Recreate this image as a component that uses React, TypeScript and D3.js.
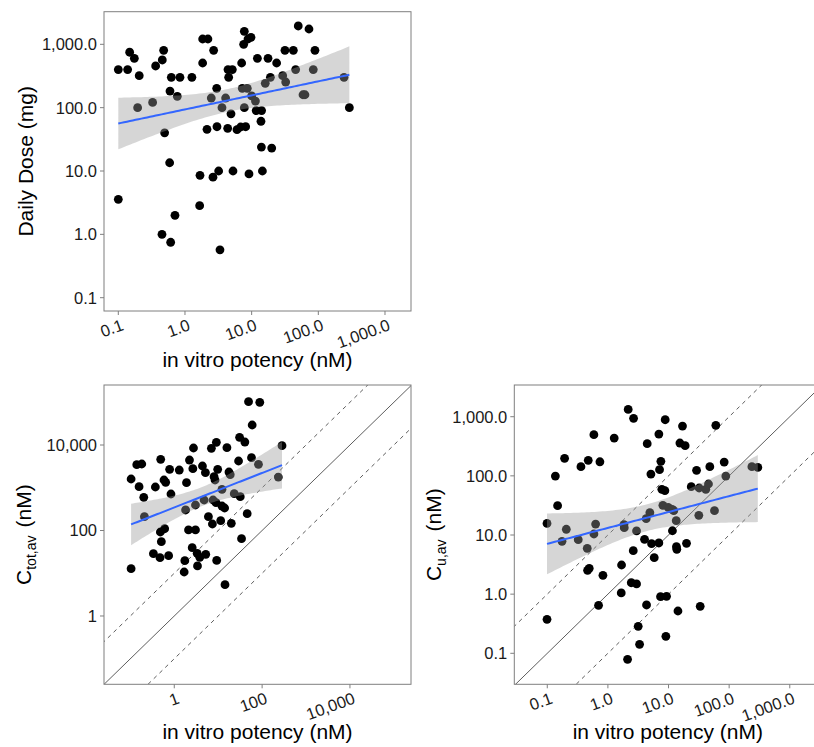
import React from "react";
import * as d3 from "d3";

// ---------- data ----------
const doseX = [0.1,0.138,0.148,0.174,0.206,0.195,0.327,0.363,0.457,0.479,0.495,0.596,0.624,0.767,0.841,1.27,0.589,0.452,0.61,0.708,0.1,1.84,2.21,1.84,2.69,2.99,2.48,3.59,4.07,4.42,5.13,4.52,4.9,2.14,3.02,4.37,6.03,6.84,8.13,1.68,2.63,3.2,5.25,9.12,14.5,14.0,20,1.66,3.35,7.08,7.76,7.59,8.81,9.77,7.24,8.6,10,7.76,11.4,11.7,14.1,13.8,12.2,17.6,19.1,16,23.7,29.2,32.4,31.6,42.2,45.7,50,72.4,89,84,58.9,63,243,292];
const doseY = [400,400,750,600,320,100,121,455,566,804,40,183,301,151,301,301,13.5,1.0,0.75,2.0,3.57,1214,1214,507,804,202,142,100,142,400,400,301,80,45.5,50,47.2,45,49.5,50,8.55,8.0,10,10,9.0,10,23.9,23,2.84,0.57,507,1603,1000,1214,1290,202,202,153,100,127,90,90,61,600,600,301,242,507,320,254,804,804,400,1948,1746,804,400,160,160,301,100];

const ctotX = [0.104,0.140,0.182,0.158,0.202,0.209,0.104,0.371,0.491,0.583,0.637,0.784,0.841,1.30,1.90,0.482,0.604,0.508,0.335,0.473,0.744,1.81,2.11,3.04,2.22,2.65,2.74,3.04,2.56,3.32,3.81,5.21,1.74,1.68,3.38,9.25,4.38,5.12,7.0,9.09,9.74,8.05,8.48,12.2,4.78,7.64,8.93,12.2,14.0,5.99,7.38,11.4,19.9,15.8,17.6,18.8,23.2,31.8,29.1,30.7,40.5,57.3,82.6,45.7,34.0,14.3,49.1,88.5,59.4,234,284];
const ctotY = [1603,3467,3597,1060,597,211,12.8,1042,4624,1518,1339,2697,714,2600,1315,92.2,110,54.8,28.7,23.2,25.8,302,103,103,4457,2794,8511,395,39.7,29.2,23.6,27.7,19.7,10.7,14.8,20.0,3228,2253,8356,11535,2697,1817,1518,918,517,517,448,374,336,211,142,170,147,8670,2335,2023,728,618,4225,15100,11749,5058,3532,248,64.4,5.41,103200,99500,29380,1782,9640];

const cuX = [2.16,2.65,8.81,0.587,1.27,6.93,17.0,60.3,4.45,15.4,18.8,0.193,0.474,0.359,0.738,0.136,7.48,7.11,5.12,29.0,48.0,82.8,88.1,237,297,0.148,23.7,32.0,41.2,45.6,7.76,8.7,8.07,9.88,11.5,12.2,4.92,4.28,13.4,31.6,57.3,0.099,0.206,0.175,0.324,0.627,0.588,0.456,1.84,1.86,2.97,11.6,4.02,5.25,6.93,13.5,13.7,19.8,2.62,5.81,1.68,0.462,0.492,0.828,2.43,2.97,1.66,0.701,4.34,7.38,9.27,14.3,33.3,0.099,3.16,3.33,9.04,2.11];
const cuY = [1330,938,889,496,436,509,695,714,350,359,324,198,183,143,173,99.3,176,127,107,124,143,171,99.3,143,139,31.3,65.6,62.3,59.1,72.8,59.1,56.1,31.7,29.4,27.2,25.8,23.8,18.9,17.5,21.5,25.8,15.7,12.5,7.82,8.34,15.3,10.4,5.96,15.0,13.3,11.7,11.8,8.45,7.14,7.33,6.35,5.72,7.23,5.43,4.14,3.11,2.53,2.73,2.08,1.56,1.49,1.05,0.647,0.656,0.908,0.918,0.519,0.622,0.376,0.286,0.142,0.194,0.079];

const decTicks = [0.1, 1, 10, 100, 1000];
const decLabels = ["0.1", "1.0", "10.0", "100.0", "1,000.0"];
const ctotTicks = [1, 100, 10000];
const ctotLabels = ["1", "100", "10,000"];
const xTitle = "in vitro potency (nM)";

const FONT = "'Liberation Sans', Arial, Helvetica, sans-serif";

function smooth(xs: number[], ys: number[]) {
  const lx = xs.map(Math.log10);
  const ly = ys.map(Math.log10);
  const n = lx.length;
  const mx = d3.mean(lx)!;
  const my = d3.mean(ly)!;
  let sxx = 0, sxy = 0;
  for (let i = 0; i < n; i++) {
    sxx += (lx[i] - mx) ** 2;
    sxy += (lx[i] - mx) * (ly[i] - my);
  }
  const b = sxy / sxx;
  const a = my - b * mx;
  let rss = 0;
  for (let i = 0; i < n; i++) rss += (ly[i] - a - b * lx[i]) ** 2;
  const df = n - 2;
  const s = Math.sqrt(rss / df);
  const z = 1.959964;
  const t = z + (z ** 3 + z) / (4 * df);
  const lo = d3.min(lx)!, hi = d3.max(lx)!;
  const out: { x: number; fit: number; lo: number; hi: number }[] = [];
  for (let k = 0; k <= 80; k++) {
    const v = lo + ((hi - lo) * k) / 80;
    const f = a + b * v;
    const se = s * Math.sqrt(1 / n + (v - mx) ** 2 / sxx);
    out.push({ x: 10 ** v, fit: 10 ** f, lo: 10 ** (f - t * se), hi: 10 ** (f + t * se) });
  }
  return out;
}

type PanelProps = {
  id: string;
  xs: number[];
  ys: number[];
  xDom: [number, number];
  yDom: [number, number];
  xRange: [number, number];
  yRange: [number, number];
  xTicks: number[];
  xLabels: string[];
  yTicks: number[];
  yLabels: string[];
  diag: boolean;
  yTitle: React.ReactNode;
  yTitleX: number;
  xTitleY: number;
};

function Panel(p: PanelProps) {
  const xS = d3.scaleLog().domain(p.xDom).range(p.xRange);
  const yS = d3.scaleLog().domain(p.yDom).range(p.yRange);
  const [x0, x1] = p.xRange;
  const [yb, yt] = p.yRange;
  const sm = smooth(p.xs, p.ys);
  const area = d3
    .area<{ x: number; lo: number; hi: number }>()
    .x((d) => xS(d.x))
    .y0((d) => yS(d.lo))
    .y1((d) => yS(d.hi));
  const line = d3
    .line<{ x: number; fit: number }>()
    .x((d) => xS(d.x))
    .y((d) => yS(d.fit));
  const diagLine = (k: number) => {
    const a = p.xDom[0] / 100, b = p.xDom[1] * 100;
    return `M${xS(a)},${yS(a * k)}L${xS(b)},${yS(b * k)}`;
  };
  const cx = (x0 + x1) / 2;
  const cy = (yb + yt) / 2;
  return (
    <g>
      <defs>
        <clipPath id={p.id}>
          <rect x={x0} y={yt} width={x1 - x0} height={yb - yt} />
        </clipPath>
      </defs>
      <g clipPath={`url(#${p.id})`}>
        {p.diag && (
          <g fill="none" stroke="#333" strokeWidth={0.8}>
            <path d={diagLine(1)} />
            <path d={diagLine(10)} strokeDasharray="4,4" />
            <path d={diagLine(0.1)} strokeDasharray="4,4" />
          </g>
        )}
        {p.xs.map((x, i) => (
          <circle key={i} cx={xS(x)} cy={yS(p.ys[i])} r={4.4} fill="#000" />
        ))}
        <path d={area(sm) || ""} fill="#999999" fillOpacity={0.4} />
        <path d={line(sm) || ""} fill="none" stroke="#3366FF" strokeWidth={2} />
      </g>
      <rect x={x0} y={yt} width={x1 - x0} height={yb - yt} fill="none" stroke="#7f7f7f" strokeWidth={1} />
      {p.yTicks.map((t, i) => (
        <g key={"y" + i}>
          <line x1={x0 - 4} x2={x0} y1={yS(t)} y2={yS(t)} stroke="#7f7f7f" />
          <text x={x0 - 7} y={yS(t)} dy="0.36em" textAnchor="end" fontSize={16.5} fill="#1a1a1a" fontFamily={FONT}>
            {p.yLabels[i]}
          </text>
        </g>
      ))}
      {p.xTicks.map((t, i) => (
        <g key={"x" + i}>
          <line x1={xS(t)} x2={xS(t)} y1={yb} y2={yb + 4} stroke="#7f7f7f" />
          <text
            transform={`translate(${xS(t) + 2},${yb + 7}) rotate(-20)`}
            dy="0.75em"
            textAnchor="end"
            fontSize={16.5}
            fill="#1a1a1a"
            fontFamily={FONT}
          >
            {p.xLabels[i]}
          </text>
        </g>
      ))}
      <text x={cx} y={p.xTitleY} textAnchor="middle" fontSize={21} fill="#000" fontFamily={FONT}>
        {xTitle}
      </text>
      <text
        transform={`translate(${p.yTitleX},${cy}) rotate(-90)`}
        textAnchor="middle"
        fontSize={21}
        fill="#000"
        fontFamily={FONT}
      >
        {p.yTitle}
      </text>
    </g>
  );
}

export default function App() {
  return (
    <svg
      width={814}
      height={747}
      style={{ position: "absolute", left: 0, top: 0, background: "#fff" }}
    >
      <rect width={814} height={747} fill="#fff" />
      <Panel
        id="c1"
        xs={doseX}
        ys={doseY}
        xDom={[10 ** -1.2145, 10 ** 3.39]}
        yDom={[10 ** -1.21, 10 ** 3.515]}
        xRange={[104, 411]}
        yRange={[311, 11.7]}
        xTicks={decTicks}
        xLabels={decLabels}
        yTicks={decTicks}
        yLabels={decLabels}
        diag={false}
        yTitle="Daily Dose (mg)"
        yTitleX={33}
        xTitleY={367}
      />
      <Panel
        id="c2"
        xs={ctotX}
        ys={ctotY}
        xDom={[10 ** -1.6, 10 ** 5.39]}
        yDom={[10 ** -1.598, 10 ** 5.404]}
        xRange={[104, 411]}
        yRange={[684.3, 385]}
        xTicks={ctotTicks}
        xLabels={ctotLabels}
        yTicks={ctotTicks}
        yLabels={ctotLabels}
        diag={true}
        yTitle={
          <>
            C<tspan fontSize={14} dy={5}>tot,av</tspan>
            <tspan dy={-5} dx={8}>(nM)</tspan>
          </>
        }
        yTitleX={31}
        xTitleY={739}
      />
      <Panel
        id="c3"
        xs={cuX}
        ys={cuY}
        xDom={[10 ** -1.544, 10 ** 3.52]}
        yDom={[10 ** -1.524, 10 ** 3.536]}
        xRange={[514.3, 821.3]}
        yRange={[684.3, 385]}
        xTicks={decTicks}
        xLabels={decLabels}
        yTicks={decTicks}
        yLabels={decLabels}
        diag={true}
        yTitle={
          <>
            C<tspan fontSize={14} dy={5}>u,av</tspan>
            <tspan dy={-5} dx={8}>(nM)</tspan>
          </>
        }
        yTitleX={441}
        xTitleY={739}
      />
    </svg>
  );
}
